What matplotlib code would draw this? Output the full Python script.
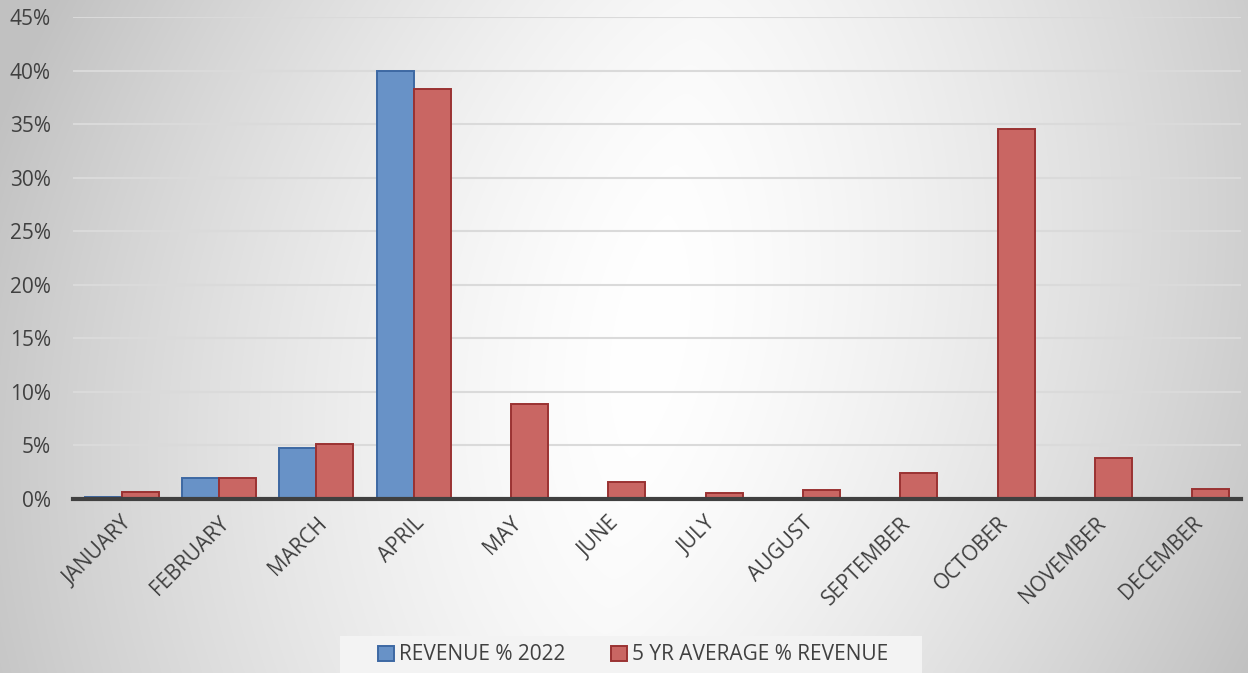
import matplotlib as mplt
mplt.use('Agg')
import matplotlib.pyplot as plt
import matplotlib.ticker as plticker
from matplotlib.patches import Rectangle
import numpy as np

plt.rcParams['font.family'] = ['Open Sans', 'DejaVu Sans']

months = ['JANUARY', 'FEBRUARY', 'MARCH', 'APRIL', 'MAY', 'JUNE', 'JULY',
          'AUGUST', 'SEPTEMBER', 'OCTOBER', 'NOVEMBER', 'DECEMBER']
revenue_2022 = [0.2, 2.0, 4.8, 40.0, 0, 0, 0, 0, 0, 0, 0, 0]
avg_5yr = [0.65, 2.0, 5.1, 38.3, 8.9, 1.6, 0.6, 0.85, 2.4, 34.5, 3.8, 0.9]

fig = plt.figure(figsize=(12.48, 6.73), dpi=100)

# soft grey-to-white backdrop, lightest through the middle
bg = fig.add_axes([0, 0, 1, 1], zorder=-10)
yy, xx = np.mgrid[0:673, 0:1248].astype(float)
cx = 700 - 0.15 * yy
dx = np.abs(xx - cx) / 620.0
dy = (yy - 336) / 336.0
shade = np.clip(1.0 - 0.2 * dx ** 1.4 - 0.03 * dy ** 2, 0.76, 1.0)
rgb = np.dstack([shade, shade, shade])
bg.imshow(rgb, aspect='auto', interpolation='bilinear')
bg.axis('off')

ax = fig.add_axes([73 / 1248, 174 / 673, 1168 / 1248, 482 / 673])
ax.set_facecolor('none')
x = np.arange(len(months))
w = 0.38
ax.bar(x - w / 2, revenue_2022, w, color='#6892c7', edgecolor='#3d68a3', linewidth=1.4,
       label='REVENUE % 2022', zorder=3)
ax.bar(x + w / 2, avg_5yr, w, color='#c96663', edgecolor='#9a3232', linewidth=1.4,
       label='5 YR AVERAGE % REVENUE', zorder=3)

ax.set_xlim(-0.5, 11.5)
ax.set_ylim(0, 45)
ax.yaxis.set_major_locator(plticker.MultipleLocator(5))
ax.yaxis.set_major_formatter(plticker.FuncFormatter(lambda v, p: '%d%%' % v))
ax.grid(axis='y', color='#dadada', linewidth=1.5, zorder=0)
for s in ['top', 'right', 'left']:
    ax.spines[s].set_visible(False)
ax.spines['bottom'].set_color('#404040')
ax.spines['bottom'].set_linewidth(3)
ax.spines['bottom'].set_zorder(4)
ax.tick_params(axis='both', length=0, colors='#404040', labelsize=15)
ax.tick_params(axis='y', pad=16)
ax.set_xticks(x)
ax.set_xticklabels(months, rotation=45, ha='right', va='top', rotation_mode='anchor')
ax.tick_params(axis='x', pad=10)

# legend strip along the bottom edge
fig.patches.append(Rectangle((340 / 1248, 0), 582 / 1248, 37 / 673, transform=fig.transFigure,
                             facecolor='#f3f3f3', edgecolor='none', zorder=-5))
leg = fig.legend(loc='center', bbox_to_anchor=(633 / 1248, 18 / 673), ncol=2, frameon=False,
                 fontsize=15, handlelength=0.75, handleheight=0.75, handletextpad=0.25,
                 columnspacing=2.2, borderpad=0)
for t in leg.get_texts():
    t.set_color('#404040')

plt.savefig('out.png', dpi=100)
